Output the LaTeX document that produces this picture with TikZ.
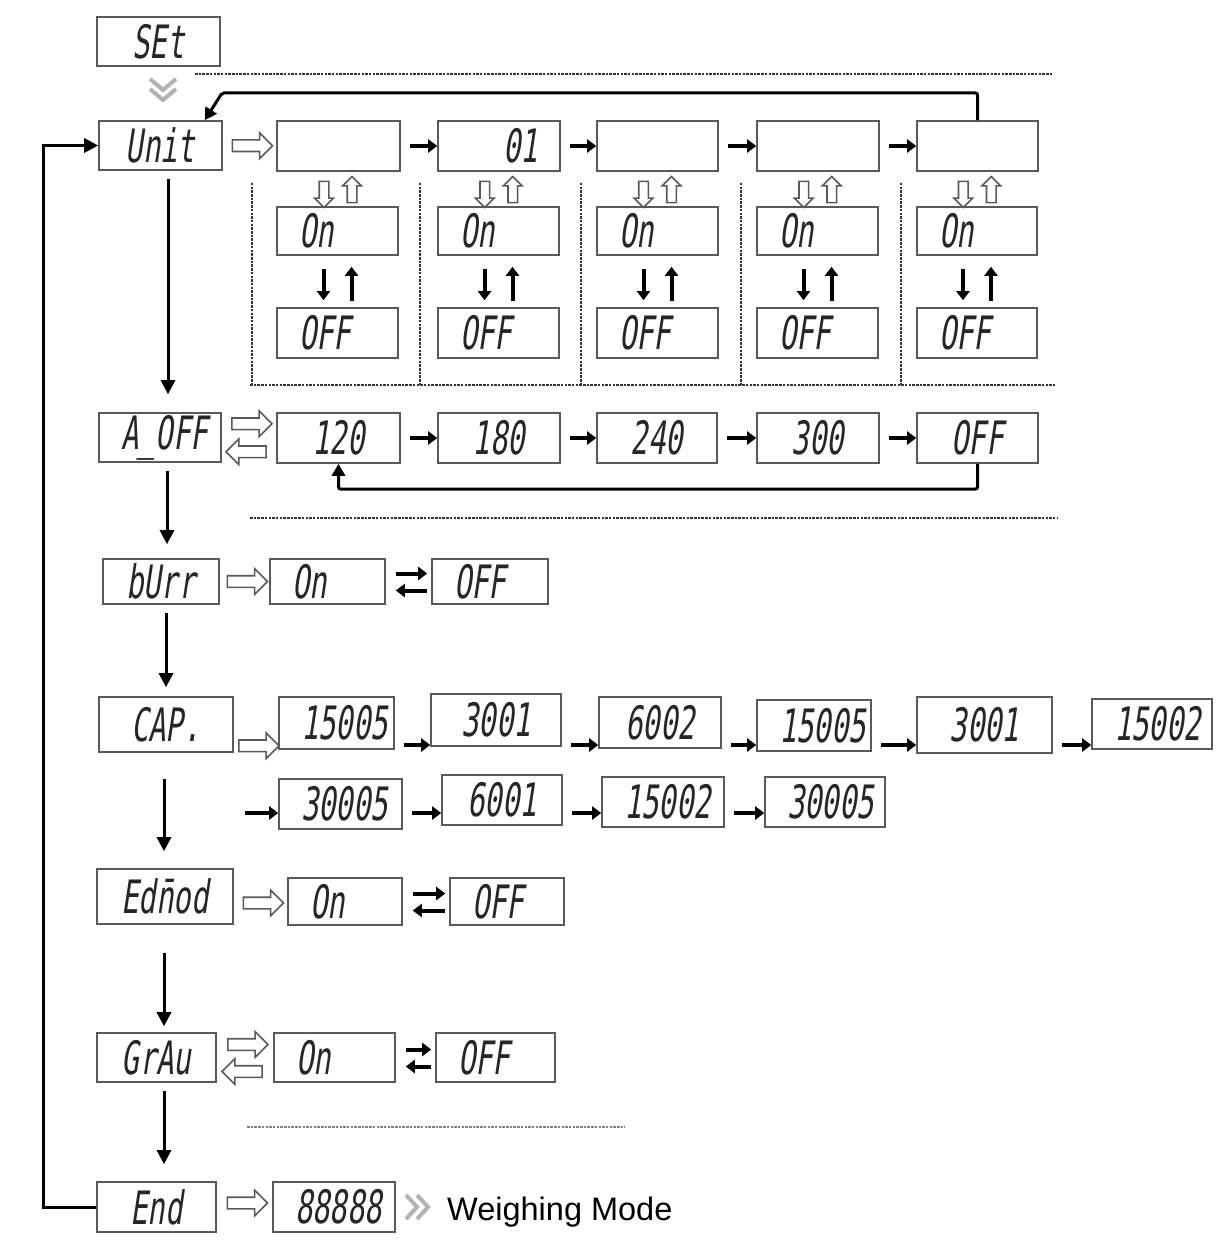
\documentclass[tikz,border=0pt]{standalone}
\usepackage{fontspec}
\setmainfont{Liberation Sans}
\newfontfamily\lcdfont[FakeSlant=0.15,FakeStretch=0.63]{DejaVu Sans Mono}
\usetikzlibrary{arrows.meta,calc,shapes.arrows}

\tikzset{
 lcd/.style={draw=black!65, line width=1.6pt, rectangle, inner sep=0pt,
   font=\lcdfont\fontsize{46}{46}\selectfont, text=black!85},
 mainarr/.style={line width=3pt, -{Triangle[length=14pt,width=14pt]}},
 blk/.style={line width=4pt, -{Triangle[length=9pt,width=13pt]}},
 loopline/.style={line width=3pt, -{Triangle[length=12pt,width=13pt]}},
 dots/.style={line width=2pt, black!80, dash pattern=on 2.5pt off 1.2pt},
 harrow/.style={single arrow, draw=black!65, line width=1.6pt, fill=white,
   inner sep=5pt, single arrow head extend=7pt,
   single arrow head indent=0pt, minimum height=40pt},
 sharrow/.style={harrow, inner sep=4pt, single arrow head extend=4.5pt, minimum height=26pt},
 chev/.style={line width=4pt, gray!60, miter limit=10},
}

% \lbox[align]{name}{x1}{y1}{x2}{y2}{text}
\newcommand\lbox[7][center]{%
  \pgfmathsetmacro\bw{#5-#3}\pgfmathsetmacro\bh{#6-#4}\pgfmathsetmacro\tw{#5-#3-44}%
  \node[lcd, minimum width=\bw pt, minimum height=\bh pt, text width=\tw pt, align=#1]
    (#2) at ({(#3+#5)/2},{(#4+#6)/2}) {#7};}

\begin{document}
\begin{tikzpicture}[x=1pt,y=-1pt]
\useasboundingbox (0,0) rectangle (1215,1257);

% ---------- boxes ----------
\lbox{set}{97}{17}{220}{66}{SEt}
\lbox{unit}{99}{121}{222}{170}{Unit}
\lbox{u1}{277}{121}{400}{171}{}
\lbox[right]{u2}{438}{121}{560}{171}{01}
\lbox{u3}{597}{121}{718}{171}{}
\lbox{u4}{757}{121}{879}{171}{}
\lbox{u5}{917}{121}{1038}{171}{}
\lbox[left]{o1}{277}{207}{398}{255}{On}
\lbox[left]{o2}{438}{207}{559}{255}{On}
\lbox[left]{o3}{597}{207}{718}{255}{On}
\lbox[left]{o4}{757}{207}{878}{255}{On}
\lbox[left]{o5}{917}{207}{1037}{255}{On}
\lbox[left]{f1}{277}{308}{398}{358}{OFF}
\lbox[left]{f2}{438}{308}{559}{358}{OFF}
\lbox[left]{f3}{597}{308}{718}{358}{OFF}
\lbox[left]{f4}{757}{308}{878}{358}{OFF}
\lbox[left]{f5}{917}{308}{1037}{358}{OFF}

\lbox{aoff}{99}{413}{221}{462}{A\_OFF}
\lbox{a1}{277}{413}{400}{463}{120}
\lbox{a2}{438}{413}{560}{463}{180}
\lbox{a3}{597}{413}{717}{463}{240}
\lbox{a4}{757}{413}{879}{463}{300}
\lbox{a5}{917}{413}{1038}{463}{OFF}

\lbox{burr}{103}{559}{219}{604}{bUrr}
\lbox[left]{b1}{270}{559}{385}{604}{On}
\lbox[left]{b2}{432}{559}{548}{604}{OFF}

\lbox{cap}{99}{697}{233}{752}{CAP.}
\lbox{c1}{279}{697}{394}{749}{15005}
\lbox{c2}{431}{694}{561}{746}{3001}
\lbox{c3}{599}{697}{721}{748}{6002}
\lbox{c4}{757}{700}{871}{751}{15005}
\lbox{c5}{917}{697}{1052}{753}{3001}
\lbox{c6}{1092}{699}{1212}{749}{15002}
\lbox{d1}{279}{779}{402}{829}{30005}
\lbox{d2}{442}{775}{562}{825}{6001}
\lbox{d3}{602}{777}{724}{827}{15002}
\lbox{d4}{765}{777}{885}{827}{30005}

\lbox{ednod}{97}{869}{233}{924}{Ed\=nod}
\lbox[left]{e1}{288}{878}{402}{925}{On}
\lbox[left]{e2}{450}{878}{564}{925}{OFF}

\lbox{grav}{97}{1033}{216}{1082}{GrAu}
\lbox[left]{g1}{274}{1033}{395}{1082}{On}
\lbox[left]{g2}{436}{1033}{555}{1082}{OFF}

\lbox{end}{97}{1182}{216}{1232}{End}
\lbox{en1}{273}{1182}{395}{1232}{88888}
\node[anchor=base west, font=\fontsize{32.5}{32.5}\selectfont, inner sep=0pt] (wm) at (447,1220) {Weighing Mode};

% ---------- dotted separators ----------
\draw[dots] (195,74) -- (1052,74);
\draw[dots] (250,385) -- (1055,385);
\draw[dots] (250,518) -- (1057,518);
\draw[dots, black!50, line width=1.5pt] (247,1127) -- (625,1127);
\foreach \x in {252,420,581,741,901} \draw[dots] (\x,183) -- (\x,385);

% ---------- chevrons ----------
\draw[chev] (150,79) -- (163,90) -- (176,79);
\draw[chev] (150,89) -- (163,100) -- (176,89);
\draw[chev] (406,1195) -- (417,1207) -- (406,1219);
\draw[chev] (417,1195) -- (428,1207) -- (417,1219);

% ---------- hollow arrows ----------
\node[harrow] (h1) at ($(unit.east)!0.5!(u1.west)$) {};
\node[harrow] (h2) at ($(aoff.east)!0.5!(a1.west)+(0,-14)$) {};
\node[harrow, shape border rotate=180] (h3) at ($(aoff.east)!0.5!(a1.west)+(0,14)$) {};
\node[harrow] (h4) at ($(burr.east)!0.5!(b1.west)$) {};
\node[harrow] (h5) at ($(cap.east)!0.5!(c1.west)+(0,22)$) {};
\node[harrow] (h6) at ($(ednod.east)!0.5!(e1.west)+(0,4)$) {};
\node[harrow] (h7) at ($(grav.east)!0.5!(g1.west)+(0,-13)$) {};
\node[harrow, shape border rotate=180] (h8) at ($(grav.east)!0.5!(g1.west)+(0,14)$) {};
\node[harrow] (h9) at ($(end.east)!0.5!(en1.west)+(0,-4)$) {};
\foreach \i in {1,...,5} {
  \node[sharrow, shape border rotate=270] (sd\i) at ($(u\i.south)!0.5!(o\i.north)+(-14,3)$) {};
  \node[sharrow, shape border rotate=90] (su\i) at ($(u\i.south)!0.5!(o\i.north)+(14,3)$) {};
  \draw[blk] ($(o\i.south)+(-14,13)$) -- ($(f\i.north)+(-14,-7)$);
  \draw[blk] ($(f\i.north)+(14,-6)$) -- ($(o\i.south)+(14,11)$);
}

% ---------- black chain arrows ----------
\foreach \i/\j in {1/2,2/3,3/4,4/5} {
  \draw[blk, shorten <=9pt] (u\i.east) -- (u\j.west);
  \draw[blk, shorten <=9pt] (a\i.east) -- (a\j.west);
}
\foreach \i/\j in {1/2,2/3,3/4,4/5,5/6}
  \draw[blk, shorten <=9pt] (c\i.east |- 0,745) -- (c\j.west |- 0,745);
\coordinate (d0) at (245,813);
\draw[blk] (d0) -- (d1.west |- d0);
\foreach \i/\j in {1/2,2/3,3/4}
  \draw[blk, shorten <=9pt] (d\i.east |- 0,813) -- (d\j.west |- 0,813);

% On <-> OFF pairs
\foreach \p/\q in {b1/b2,e1/e2,g1/g2} {
  \draw[blk, shorten <=10pt] ($(\p.east)+(0,-8)$) -- ($(\q.west)+(-4,-8)$);
  \draw[blk, shorten <=4pt] ($(\q.west)+(0,9)$) -- ($(\p.east)+(10,9)$);
}

% ---------- loops ----------
\draw[loopline, rounded corners=2pt] (u5.north) -- (u5.north |- 0,93) -- (222,93) -- ($(unit.north east)+(-18,0)$);
\draw[loopline, rounded corners=2pt] (a5.south) -- (a5.south |- 0,489) -| (a1.south);

% ---------- main vertical chain ----------
\draw[mainarr, shorten <=8pt, shorten >=18pt] (unit.south -| 168,0) -- (aoff.north -| 168,0);
\draw[mainarr, shorten <=8pt, shorten >=14pt] (aoff.south -| 167,0) -- (burr.north -| 167,0);
\draw[mainarr, shorten <=8pt, shorten >=9pt] (burr.south -| 166,0) -- (cap.north -| 166,0);
\draw[mainarr, shorten <=26pt, shorten >=17pt] (cap.south -| 164,0) -- (ednod.north -| 164,0);
\draw[mainarr, shorten <=28pt, shorten >=6pt] (ednod.south -| 164,0) -- (grav.north -| 164,0);
\draw[mainarr, shorten <=8pt, shorten >=17pt] (grav.south -| 164,0) -- (end.north -| 164,0);

% feedback from End to Unit
\draw[mainarr] (end.west) -| ($(unit.west)+(-55,0)$) -- (unit.west);
\end{tikzpicture}
\end{document}
